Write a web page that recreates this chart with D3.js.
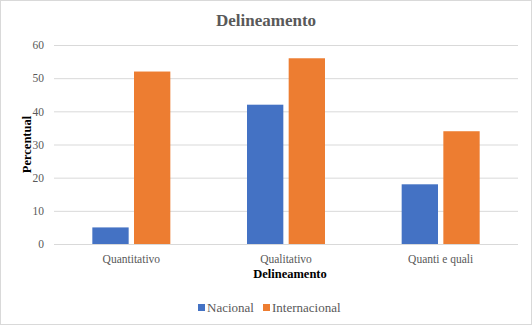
<!DOCTYPE html>
<html>
<head>
<meta charset="utf-8">
<script src="https://cdn.jsdelivr.net/npm/d3@7"></script>
<style>
  html, body { margin: 0; padding: 0; background: #fff; }
  svg { display: block; }
  svg text { font-family: "Liberation Serif", "Times New Roman", "DejaVu Serif", serif !important; }
</style>
</head>
<body>
<div id="chart"></div>
<script>
const categories = ['Quantitativo', 'Qualitativo', 'Quanti e quali'];
const seriesNames = ['Nacional', 'Internacional'];
const nacional = [5, 42, 18];
const internacional = [52, 56, 34];
const yTicks = [0, 10, 20, 30, 40, 50, 60];

(function() {
    const W = 532, H = 326;
    const colors = { Nacional: '#4472C4', Internacional: '#ED7D31' };
    const margin = { top: 45, right: 14, bottom: 82, left: 54 };

    const svg = d3.select('#chart').append('svg').attr('width', W).attr('height', H);

    svg.append('rect').attr('x', 0.5).attr('y', 0.5).attr('width', W - 1).attr('height', H - 2)
        .attr('fill', '#fff').attr('stroke', '#d9d9d9');

    const x = d3.scaleBand().domain(categories).range([margin.left, W - margin.right]);
    const x1 = d3.scaleBand().domain(seriesNames).range([0, 78]).paddingInner(10 / 78);
    const y = d3.scaleLinear().domain([0, 60]).range([H - margin.bottom, margin.top]);

    // grid
    svg.append('g').selectAll('line').data(yTicks).enter().append('line')
        .attr('x1', margin.left).attr('x2', W - margin.right)
        .attr('y1', d => y(d) + 0.5).attr('y2', d => y(d) + 0.5)
        .attr('stroke', '#d9d9d9').attr('stroke-width', 1);

    // y axis labels
    const yAxis = svg.append('g').attr('transform', `translate(${margin.left - 10},0)`)
        .call(d3.axisLeft(y).tickValues(yTicks).tickSize(0).tickPadding(0));
    yAxis.select('.domain').remove();
    yAxis.selectAll('text').attr('fill', '#595959').style('font-size', '11.5px');

    // bars
    const rows = categories.map((c, i) => ({ cat: c, values: [
        { key: 'Nacional', value: nacional[i] },
        { key: 'Internacional', value: internacional[i] }
    ] }));
    const groups = svg.append('g').selectAll('g').data(rows).enter().append('g')
        .attr('transform', d => `translate(${x(d.cat) + (x.bandwidth() - 78) / 2},0)`);
    groups.selectAll('rect').data(d => d.values).enter().append('rect')
        .attr('x', d => x1(d.key)).attr('width', x1.bandwidth())
        .attr('y', d => y(d.value)).attr('height', d => y(0) - y(d.value))
        .attr('fill', d => colors[d.key]);

    // x axis labels
    const xAxis = svg.append('g').attr('transform', `translate(0,${y(0)})`)
        .call(d3.axisBottom(x).tickSize(0).tickPadding(11));
    xAxis.select('.domain').remove();
    xAxis.selectAll('text').attr('fill', '#595959').style('font-size', '11.5px');

    // title
    svg.append('text').attr('x', 266).attr('y', 26).attr('text-anchor', 'middle')
        .style('font-size', '17px').style('font-weight', 'bold').attr('fill', '#595959')
        .text('Delineamento');

    // axis titles
    svg.append('text').attr('x', 290).attr('y', 278).attr('text-anchor', 'middle')
        .style('font-size', '12.5px').style('font-weight', 'bold').attr('fill', '#000')
        .text('Delineamento');
    svg.append('text').attr('transform', `translate(31,${(y(0) + y(60)) / 2}) rotate(-90)`)
        .attr('text-anchor', 'middle')
        .style('font-size', '12.5px').style('font-weight', 'bold').attr('fill', '#000')
        .text('Percentual');

    // legend
    const legendX = [198, 263];
    const legend = svg.append('g').selectAll('g').data(seriesNames).enter().append('g')
        .attr('transform', (d, i) => `translate(${legendX[i]},304)`);
    legend.append('rect').attr('width', 7).attr('height', 7).attr('fill', d => colors[d]);
    legend.append('text').attr('x', 9).attr('y', 7.5)
        .style('font-size', '13px').attr('fill', '#595959').text(d => d);
})();
</script>
</body>
</html>
